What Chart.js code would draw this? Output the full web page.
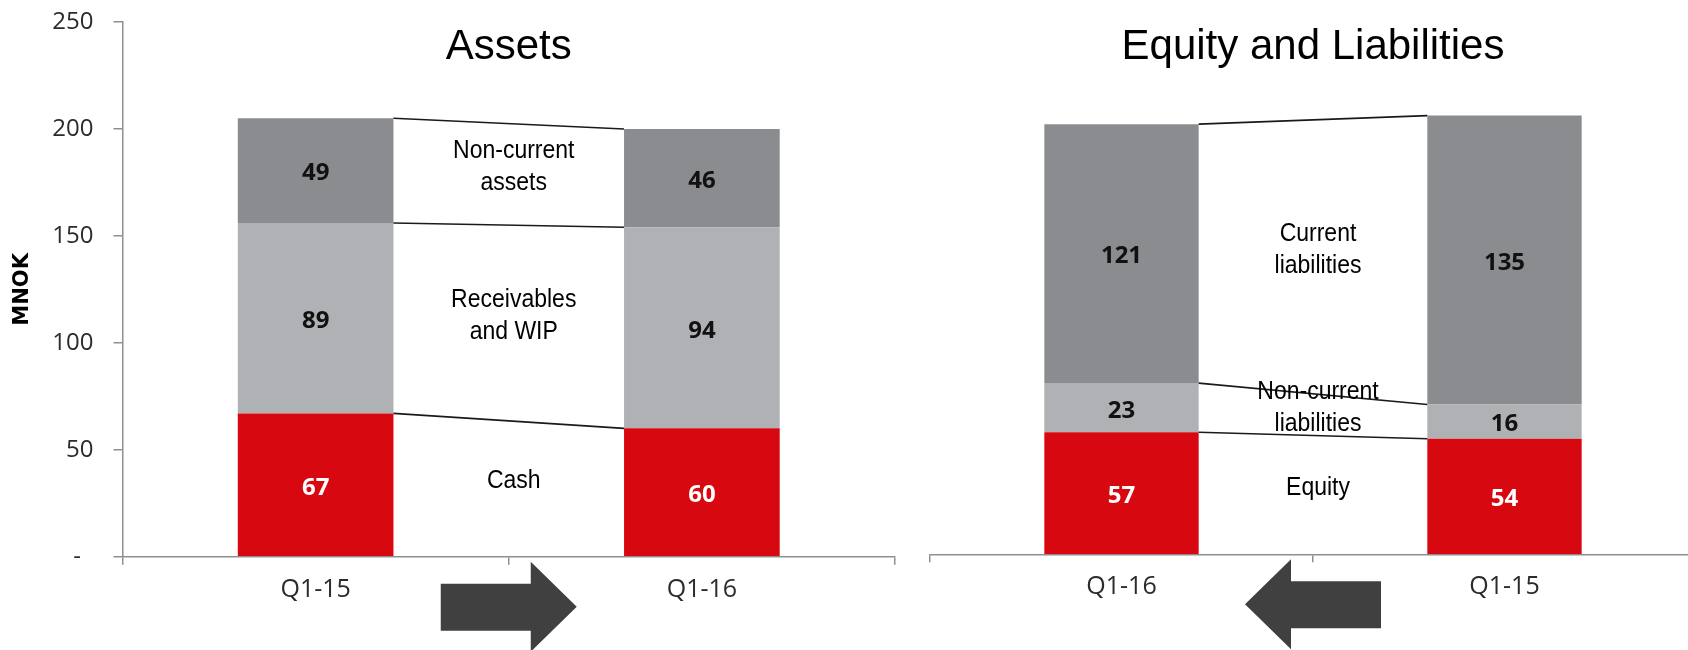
<!DOCTYPE html>
<html>
<head>
<meta charset="utf-8">
<script src="https://cdn.jsdelivr.net/npm/chart.js@4/dist/chart.umd.min.js"></script>
<style>
  html, body { margin: 0; padding: 0; overflow: hidden; background: #fff; }
  #wrap { position: relative; width: 1688px; height: 650px; overflow: hidden; }
  #wrap canvas { position: absolute; top: 0; }
</style>
</head>
<body>
<div id="wrap">
  <canvas id="assetsChart" width="900" height="650" style="left:0"></canvas>
  <canvas id="liabChart" width="800" height="650" style="left:900px"></canvas>
</div>
<script>
// balance sheet, MNOK
const assetPeriods = ['Q1-15', 'Q1-16'];
const cashValues = [67, 60];
const receivablesValues = [89, 94];
const nonCurrentAssetValues = [49, 46];

const liabPeriods = ['Q1-16', 'Q1-15'];
const equityValues = [57, 54];
const nonCurrentLiabValues = [23, 16];
const currentLiabValues = [121, 135];

const yTickValues = [0, 50, 100, 150, 200, 250];

const RED = '#d7080f';
const LIGHT = '#b0b1b4';
const DARK = '#8b8c90';
const AXIS = '#8f8f8f';
const TICK_TEXT = '#2b2b2b';

// connector lines between the two stacks + the band captions
const bridgePlugin = {
  id: 'bridge',
  afterDatasetsDraw(chart) {
    const ctx = chart.ctx;
    const first = chart.getDatasetMeta(0).data[0];
    const second = chart.getDatasetMeta(0).data[1];
    const x0 = first.x + first.width / 2;
    const x1 = second.x - second.width / 2;
    const cx = (x0 + x1) / 2 + 5;
    ctx.save();
    chart.data.datasets.forEach((ds, i) => {
      const meta = chart.getDatasetMeta(i);
      const a = meta.data[0], b = meta.data[1];
      ctx.strokeStyle = '#1a1a1a';
      ctx.lineWidth = 1.6;
      ctx.beginPath();
      ctx.moveTo(x0, a.y);
      ctx.lineTo(x1, b.y);
      ctx.stroke();
    });
    chart.data.datasets.forEach((ds, i) => {
      const meta = chart.getDatasetMeta(i);
      const a = meta.data[0], b = meta.data[1];
      const mid = (a.y + a.base + b.y + b.base) / 4 - 7;
      const lines = ds.caption.split('\n');
      ctx.font = '25px "Liberation Sans", Arial, sans-serif';
      ctx.fillStyle = '#000';
      ctx.textAlign = 'center';
      ctx.textBaseline = 'middle';
      lines.forEach((t, k) => {
        const ly = mid + (k - (lines.length - 1) / 2) * 32;
        ctx.save();
        ctx.translate(cx, ly);
        ctx.scale(0.92, 1);
        ctx.fillText(t, 0, 0);
        ctx.restore();
      });
    });
    ctx.restore();
  }
};

// numbers inside the segments
const valuePlugin = {
  id: 'values',
  afterDatasetsDraw(chart) {
    const ctx = chart.ctx;
    ctx.save();
    ctx.font = 'bold 24px "Open Sans", sans-serif';
    ctx.textAlign = 'center';
    ctx.textBaseline = 'middle';
    chart.data.datasets.forEach((ds, i) => {
      chart.getDatasetMeta(i).data.forEach((el, j) => {
        ctx.fillStyle = i === 0 ? '#ffffff' : '#111111';
        ctx.fillText(ds.data[j], el.x, (el.y + el.base) / 2 + 3);
      });
    });
    ctx.restore();
  }
};

// panel title and the big direction arrow
const panelPlugin = {
  id: 'panel',
  afterDraw(chart, args, opts) {
    const ctx = chart.ctx;
    const xs = chart.scales.x;
    const mid = (xs.getPixelForValue(0) + xs.getPixelForValue(1)) / 2;
    const area = chart.chartArea;
    ctx.save();
    ctx.font = '42px "Liberation Sans", Arial, sans-serif';
    ctx.fillStyle = '#000';
    ctx.textAlign = 'center';
    ctx.textBaseline = 'alphabetic';
    ctx.fillText(opts.title, mid, 59);

    const d = opts.dir;
    const yb = area.bottom;
    ctx.fillStyle = '#404040';
    ctx.beginPath();
    ctx.moveTo(mid - d * 68, yb + 27);
    ctx.lineTo(mid + d * 22, yb + 27);
    ctx.lineTo(mid + d * 22, yb + 5);
    ctx.lineTo(mid + d * 68, yb + 50);
    ctx.lineTo(mid + d * 22, yb + 95);
    ctx.lineTo(mid + d * 22, yb + 74);
    ctx.lineTo(mid - d * 68, yb + 74);
    ctx.closePath();
    ctx.fill();
    ctx.restore();
  }
};

function xAxis(height) {
  return {
    stacked: true,
    grid: { drawOnChartArea: false, tickLength: 8, color: AXIS, lineWidth: 1.5 },
    border: { color: AXIS, width: 1.5 },
    ticks: { color: TICK_TEXT, font: { family: 'Open Sans', size: 25 }, padding: 10 },
    afterFit(s) { s.height = height; }
  };
}

new Chart(document.getElementById('assetsChart'), {
  type: 'bar',
  data: {
    labels: assetPeriods,
    datasets: [
      { label: 'Cash', caption: 'Cash', data: cashValues, backgroundColor: RED },
      { label: 'Receivables and WIP', caption: 'Receivables\nand WIP', data: receivablesValues, backgroundColor: LIGHT },
      { label: 'Non-current assets', caption: 'Non-current\nassets', data: nonCurrentAssetValues, backgroundColor: DARK }
    ]
  },
  options: {
    responsive: false,
    animation: false,
    layout: { padding: { top: 22, right: 5, bottom: 0, left: 0 } },
    datasets: { bar: { categoryPercentage: 1, barPercentage: 0.403, borderWidth: 0 } },
    scales: {
      x: xAxis(93.3),
      y: {
        stacked: true,
        min: 0,
        max: 250,
        afterBuildTicks(s) { s.ticks = yTickValues.map(v => ({ value: v })); },
        grid: { drawOnChartArea: false, tickLength: 9, color: AXIS, lineWidth: 1.5 },
        border: { color: AXIS, width: 1.5 },
        ticks: {
          color: TICK_TEXT,
          font: { family: 'Open Sans', size: 24 },
          padding: 20,
          callback: v => (v === 0 ? '-  ' : v)
        },
        title: {
          display: true,
          text: 'MNOK',
          color: '#000',
          font: { family: 'DejaVu Sans', size: 21, weight: 'bold' },
          padding: { top: 10, bottom: 0 }
        },
        afterFit(s) {
          s.width = 122.5;
          s.paddingTop = 0;
          s.paddingBottom = 0;
        }
      }
    },
    plugins: {
      legend: { display: false },
      tooltip: { enabled: false },
      panel: { title: 'Assets', dir: 1 }
    }
  },
  plugins: [bridgePlugin, valuePlugin, panelPlugin]
});

new Chart(document.getElementById('liabChart'), {
  type: 'bar',
  data: {
    labels: liabPeriods,
    datasets: [
      { label: 'Equity', caption: 'Equity', data: equityValues, backgroundColor: RED },
      { label: 'Non-current liabilities', caption: 'Non-current\nliabilities', data: nonCurrentLiabValues, backgroundColor: LIGHT },
      { label: 'Current liabilities', caption: 'Current\nliabilities', data: currentLiabValues, backgroundColor: DARK }
    ]
  },
  options: {
    responsive: false,
    animation: false,
    layout: { padding: { top: 19.3, right: 4, bottom: 0, left: 30 } },
    datasets: { bar: { categoryPercentage: 1, barPercentage: 0.403, borderWidth: 0 } },
    scales: {
      x: xAxis(95.7),
      y: { stacked: true, display: false, min: 0, max: 250 }
    },
    plugins: {
      legend: { display: false },
      tooltip: { enabled: false },
      panel: { title: 'Equity and Liabilities', dir: -1 }
    }
  },
  plugins: [bridgePlugin, valuePlugin, panelPlugin]
});
</script>
</body>
</html>
